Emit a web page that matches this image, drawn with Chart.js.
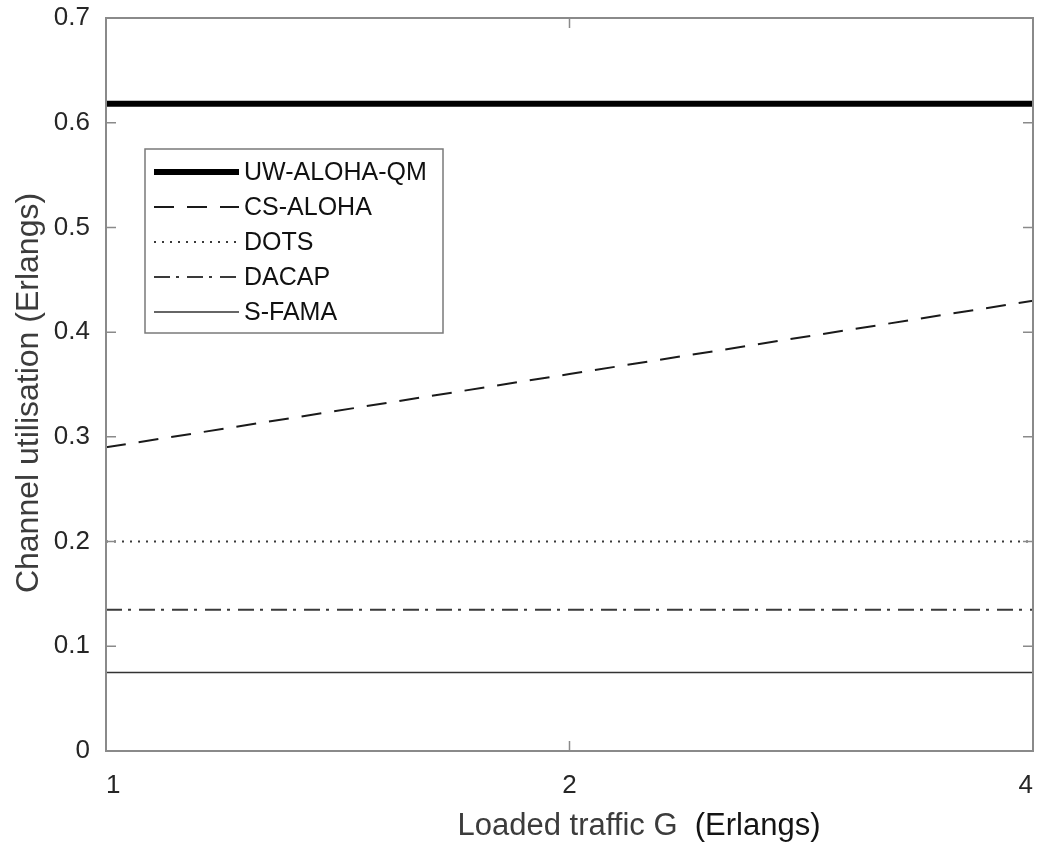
<!DOCTYPE html>
<html>
<head>
<meta charset="utf-8">
<script src="https://cdn.jsdelivr.net/npm/chart.js@4.4.0/dist/chart.umd.min.js"></script>
<style>
  html, body { margin: 0; padding: 0; background: #fff; overflow: hidden; }
  #wrap { position: relative; width: 1037px; height: 843px; }
</style>
</head>
<body>
<div id="wrap"><canvas id="c" width="1037" height="843"></canvas></div>
<script>
// Offered load (Erlangs) on a log2-spaced axis
const loads = [1, 2, 4];
// Channel utilisation per protocol
const uwAlohaQm = [0.618, 0.618, 0.618];
const csAloha = [0.29, 0.36, 0.43];
const dots = [0.2, 0.2, 0.2];
const dacap = [0.135, 0.135, 0.135];
const sFama = [0.075, 0.075, 0.075];

const seriesNames = ['UW-ALOHA-QM', 'CS-ALOHA', 'DOTS', 'DACAP', 'S-FAMA'];
const xTickValues = [1, 2, 4];
const yTickValues = [0, 0.1, 0.2, 0.3, 0.4, 0.5, 0.6, 0.7];
const xTitleMain = 'Loaded traffic G';
const xTitleUnit = '(Erlangs)';
const yTitle = 'Channel utilisation (Erlangs)';

const FONT = '"Liberation Sans", Arial, sans-serif';
const TEXT = '#262626';
const AXIS = '#8a8a8a';

function toPoints(values) {
  return loads.map((x, i) => ({ x: x, y: values[i] }));
}

const styles = [
  { borderColor: '#000000', borderWidth: 6, borderDash: [] },
  { borderColor: '#1a1a1a', borderWidth: 2, borderDash: [20, 13] },
  { borderColor: '#3a3a3a', borderWidth: 2, borderDash: [2, 6] },
  { borderColor: '#3a3a3a', borderWidth: 2, borderDash: [16, 6, 3, 8] },
  { borderColor: '#333333', borderWidth: 1.5, borderDash: [] }
];
const seriesValues = [uwAlohaQm, csAloha, dots, dacap, sFama];

const datasets = seriesNames.map((name, i) => Object.assign({
  label: name,
  data: toPoints(seriesValues[i]),
  pointRadius: 0,
  pointHoverRadius: 0,
  tension: 0,
  fill: false,
  borderCapStyle: 'butt'
}, styles[i]));

// Box around the plot area with inward tick marks on all four sides
const framePlugin = {
  id: 'frame',
  afterDatasetsDraw(chart) {
    const { ctx, chartArea: a, scales } = chart;
    ctx.save();
    ctx.strokeStyle = AXIS;
    ctx.lineWidth = 2;
    ctx.setLineDash([]);
    ctx.strokeRect(a.left, a.top, a.right - a.left, a.bottom - a.top);
    ctx.lineWidth = 1.5;
    const tl = 10;
    yTickValues.forEach(v => {
      const y = scales.y.getPixelForValue(v);
      ctx.beginPath();
      ctx.moveTo(a.left, y); ctx.lineTo(a.left + tl, y);
      ctx.moveTo(a.right, y); ctx.lineTo(a.right - tl, y);
      ctx.stroke();
    });
    xTickValues.forEach(v => {
      const x = scales.x.getPixelForValue(v);
      ctx.beginPath();
      ctx.moveTo(x, a.bottom); ctx.lineTo(x, a.bottom - tl);
      ctx.moveTo(x, a.top); ctx.lineTo(x, a.top + tl);
      ctx.stroke();
    });
    ctx.restore();
  }
};

// Legend box inside the plot, sample lines taken from each dataset's style
const boxLegendPlugin = {
  id: 'boxLegend',
  afterDraw(chart) {
    const { ctx } = chart;
    const box = { x: 145, y: 149, w: 298, h: 184 };
    ctx.save();
    ctx.fillStyle = '#ffffff';
    ctx.fillRect(box.x, box.y, box.w, box.h);
    ctx.strokeStyle = '#7a7a7a';
    ctx.lineWidth = 1.5;
    ctx.strokeRect(box.x, box.y, box.w, box.h);
    const rowY0 = 172, rowStep = 35;
    chart.data.datasets.forEach((ds, i) => {
      const y = rowY0 + i * rowStep;
      ctx.strokeStyle = ds.borderColor;
      ctx.lineWidth = ds.borderWidth;
      ctx.setLineDash(ds.borderDash || []);
      ctx.beginPath();
      ctx.moveTo(154, y);
      ctx.lineTo(239, y);
      ctx.stroke();
      ctx.setLineDash([]);
      ctx.fillStyle = '#111111';
      ctx.font = '25px ' + FONT;
      ctx.textAlign = 'left';
      ctx.textBaseline = 'middle';
      ctx.fillText(ds.label, 244, y + 1);
    });
    ctx.restore();
  }
};

// Axis titles
const titlesPlugin = {
  id: 'axisTitles',
  afterDraw(chart) {
    const { ctx } = chart;
    ctx.save();
    ctx.textBaseline = 'alphabetic';
    ctx.font = '31px ' + FONT;
    const gap = ctx.measureText('  ').width;
    const w1 = ctx.measureText(xTitleMain).width;
    const w2 = ctx.measureText(xTitleUnit).width;
    const x0 = 639 - (w1 + gap + w2) / 2;
    ctx.textAlign = 'left';
    ctx.fillStyle = '#3c3c3c';
    ctx.fillText(xTitleMain, x0, 835);
    ctx.fillStyle = '#141414';
    ctx.fillText(xTitleUnit, x0 + w1 + gap, 835);

    ctx.translate(38, 393);
    ctx.rotate(-Math.PI / 2);
    ctx.font = '32px ' + FONT;
    ctx.textAlign = 'center';
    ctx.fillStyle = '#3c3c3c';
    ctx.fillText(yTitle, 0, 0);
    ctx.restore();
  }
};

new Chart(document.getElementById('c'), {
  type: 'line',
  data: { datasets: datasets },
  options: {
    responsive: false,
    animation: false,
    devicePixelRatio: 1,
    layout: { padding: { top: 18, right: 4, left: 0, bottom: 0 } },
    plugins: { legend: { display: false }, tooltip: { enabled: false } },
    scales: {
      x: {
        type: 'logarithmic',
        min: 1,
        max: 4,
        grid: { display: false, drawTicks: false },
        border: { display: false },
        afterBuildTicks(scale) { scale.ticks = xTickValues.map(v => ({ value: v })); },
        afterFit(scale) {
          scale.height = 92;
          scale.paddingLeft = 0; scale.paddingRight = 0;
          scale.paddingTop = 0; scale.paddingBottom = 0;
        },
        ticks: {
          align: 'inner',
          padding: 19,
          color: TEXT,
          font: { family: FONT, size: 26 },
          autoSkip: false,
          maxRotation: 0,
          callback: (v) => String(v)
        }
      },
      y: {
        type: 'linear',
        min: 0,
        max: 0.7,
        grid: { display: false, drawTicks: false },
        border: { display: false },
        afterBuildTicks(scale) { scale.ticks = yTickValues.map(v => ({ value: v })); },
        afterFit(scale) {
          scale.width = 106;
          scale.paddingLeft = 0; scale.paddingRight = 0;
          scale.paddingTop = 0; scale.paddingBottom = 0;
        },
        ticks: {
          padding: 16,
          color: TEXT,
          font: { family: FONT, size: 26 },
          callback: (v) => String(v)
        }
      }
    }
  },
  plugins: [framePlugin, boxLegendPlugin, titlesPlugin]
});
</script>
</body>
</html>
